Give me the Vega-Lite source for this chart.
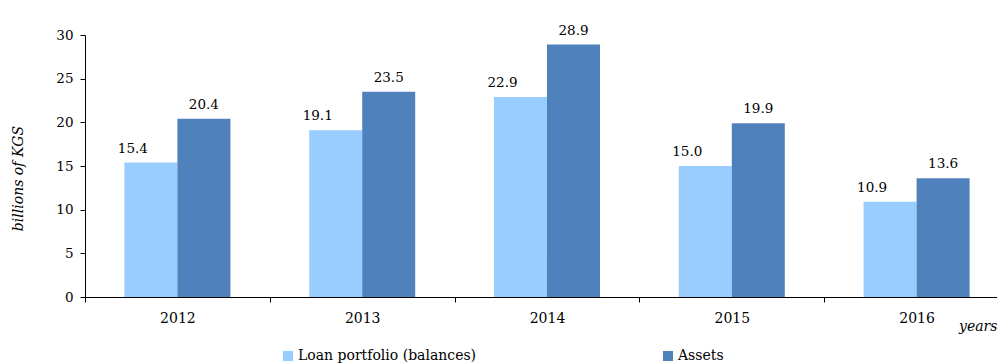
{
  "$schema": "https://vega.github.io/schema/vega-lite/v6.json",
  "autosize": "none",
  "width": 912,
  "height": 262,
  "padding": {"left": 85, "top": 35, "right": 0, "bottom": 66},
  "background": "white",
  "config": {
    "view": {"stroke": null},
    "font": "DejaVu Serif",
    "axis": {"grid": false, "domainColor": "black", "tickColor": "black", "labelColor": "black", "titleColor": "black", "labelFont": "DejaVu Serif", "titleFont": "DejaVu Serif"}
  },
  "data": {
    "values": [
      {"year": "2012", "series": "Loan portfolio (balances)", "value": 15.4},
      {"year": "2012", "series": "Assets", "value": 20.4},
      {"year": "2013", "series": "Loan portfolio (balances)", "value": 19.1},
      {"year": "2013", "series": "Assets", "value": 23.5},
      {"year": "2014", "series": "Loan portfolio (balances)", "value": 22.9},
      {"year": "2014", "series": "Assets", "value": 28.9},
      {"year": "2015", "series": "Loan portfolio (balances)", "value": 15.0},
      {"year": "2015", "series": "Assets", "value": 19.9},
      {"year": "2016", "series": "Loan portfolio (balances)", "value": 10.9},
      {"year": "2016", "series": "Assets", "value": 13.6}
    ]
  },
  "encoding": {
    "x": {
      "field": "year", "type": "nominal",
      "scale": {"range": [0, 924], "paddingInner": 0, "paddingOuter": 0},
      "axis": {
        "title": "years", "titleFontStyle": "italic", "titleFontWeight": "normal", "titleFontSize": 14,
        "titleAlign": "right", "titleAnchor": null, "titleX": 912, "titleY": 33, "titleBaseline": "alphabetic",
        "labelAngle": 0, "labelFontSize": 14, "labelPadding": 9, "tickSize": 5, "tickBand": "extent",
        "domainWidth": 1, "tickWidth": 1
      }
    },
    "xOffset": {
      "field": "series", "type": "nominal",
      "sort": ["Loan portfolio (balances)", "Assets"],
      "scale": {"paddingInner": 0, "paddingOuter": 0.743}
    },
    "y": {
      "field": "value", "type": "quantitative",
      "scale": {"domain": [0, 30], "nice": false},
      "axis": {
        "title": "billions of KGS", "titleFontStyle": "italic", "titleFontWeight": "normal", "titleFontSize": 14,
        "titleX": -67, "titleY": 143, "titleBaseline": "middle", "titleAngle": -90,
        "values": [0, 5, 10, 15, 20, 25, 30], "labelFontSize": 13.5, "labelPadding": 7, "tickSize": 5
      }
    }
  },
  "layer": [
    {
      "mark": {"type": "bar"},
      "encoding": {
        "color": {
          "field": "series", "type": "nominal",
          "sort": ["Loan portfolio (balances)", "Assets"],
          "scale": {"domain": ["Loan portfolio (balances)", "Assets"], "range": ["#99CCFF", "#4F81BD"]},
          "legend": {
            "title": null, "orient": "none", "direction": "horizontal",
            "legendX": 196, "legendY": 314, "columnPadding": 184,
            "symbolType": "square", "symbolSize": 100, "symbolStrokeWidth": 0,
            "labelFont": "DejaVu Serif", "labelFontSize": 14, "labelColor": "black", "labelOffset": 3, "padding": 0, "labelLimit": 400
          }
        }
      }
    },
    {
      "transform": [{"filter": "datum.series === 'Loan portfolio (balances)'"}],
      "mark": {"type": "text", "baseline": "alphabetic", "dy": -10, "dx": -18, "fontSize": 13.5, "font": "DejaVu Serif", "color": "black"},
      "encoding": {"text": {"field": "value", "type": "quantitative", "format": ".1f"}}
    },
    {
      "transform": [{"filter": "datum.series === 'Assets'"}],
      "mark": {"type": "text", "baseline": "alphabetic", "dy": -10, "fontSize": 13.5, "font": "DejaVu Serif", "color": "black"},
      "encoding": {"text": {"field": "value", "type": "quantitative", "format": ".1f"}}
    }
  ]
}
